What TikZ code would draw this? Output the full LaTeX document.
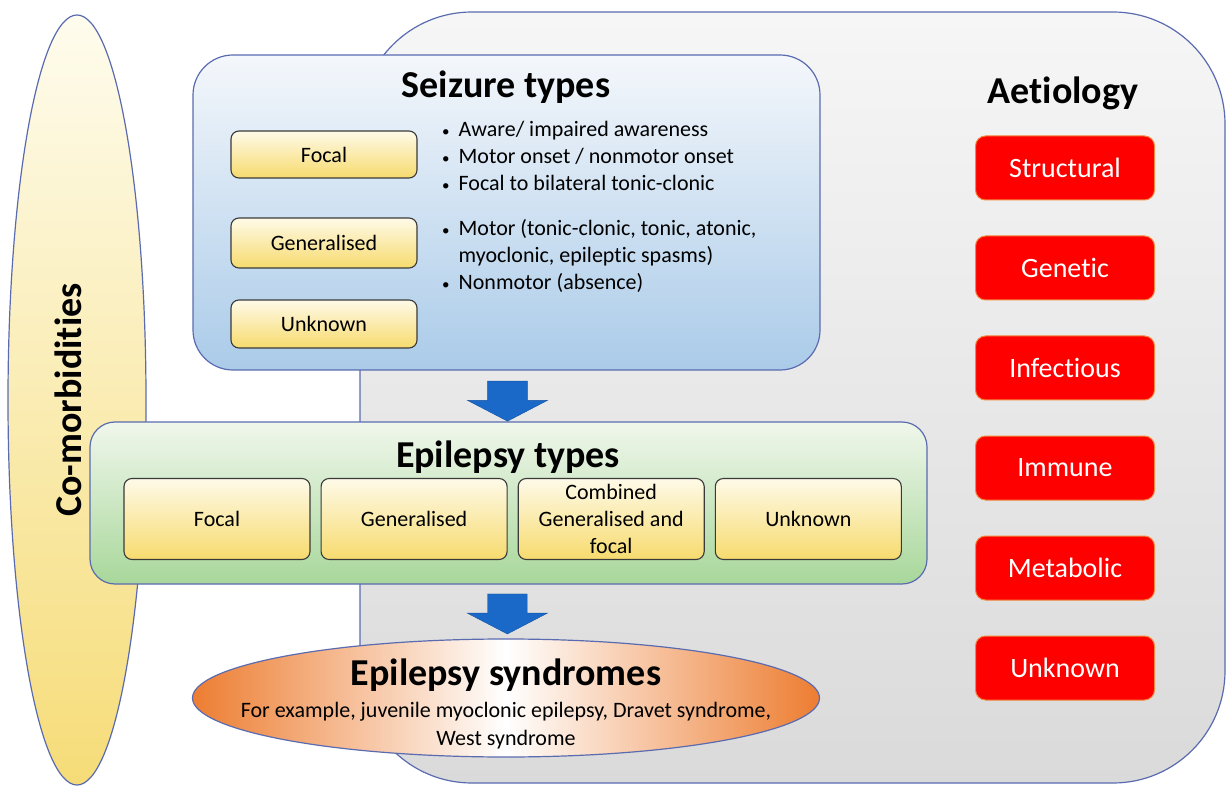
\documentclass[tikz,border=0pt]{standalone}
\usepackage{fontspec}
\setmainfont{Carlito}[Ligatures=NoCommon]
\usepackage{tikz}
\usetikzlibrary{positioning, calc, shapes.geometric, shapes.arrows}
\definecolor{panelblue}{HTML}{5A6BB0}
\definecolor{greytop}{HTML}{F6F6F7}
\definecolor{greymid}{HTML}{E4E4E4}
\definecolor{greybot}{HTML}{DADADA}
\definecolor{seizuretop}{HTML}{F4F7FB}
\definecolor{seizurebot}{HTML}{AACBE9}
\definecolor{typestop}{HTML}{F0F7EC}
\definecolor{typesbot}{HTML}{A8D79A}
\definecolor{yellowtop}{HTML}{FEFAE8}
\definecolor{yellowbot}{HTML}{F7DB6E}
\definecolor{comorbtop}{HTML}{FEFCEE}
\definecolor{comorbbot}{HTML}{F6DC78}
\definecolor{syndorange}{HTML}{ED7D31}
\definecolor{causered}{HTML}{FF0000}
\definecolor{causeedge}{HTML}{F08A3C}
\definecolor{arrowblue}{HTML}{1A68C8}
\definecolor{boxedge}{HTML}{3A3A3A}
\newcommand{\smallbullet}{{\fontsize{15}{15}\selectfont\textbullet}}
\tikzset{
    panel/.style={
        rectangle, draw=panelblue, line width=1.2pt, inner sep=0pt
    },
    catbox/.style={
        rectangle, rounded corners=8pt, draw=boxedge, line width=1.1pt,
        top color=yellowtop, bottom color=yellowbot,
        minimum width=186pt, font=\fontsize{22}{27}\selectfont,
        align=center, inner sep=0pt
    },
    causebox/.style={
        rectangle, rounded corners=10pt, draw=causeedge, line width=1pt,
        fill=causered, text=white, minimum width=179pt, minimum height=64pt,
        font=\fontsize{28}{34}\selectfont, inner sep=0pt
    },
    headlab/.style={
        font=\fontsize{38}{44}\selectfont\bfseries, inner sep=0pt
    },
    bulletlist/.style={
        font=\fontsize{22}{27}\selectfont, anchor=west, inner sep=0pt
    },
    flowarrow/.style={
        single arrow, rotate=-90, fill=arrowblue, draw=arrowblue!80!black,
        line width=0.4pt, minimum height=40pt, minimum width=80pt,
        single arrow head extend=20pt, single arrow tip angle=125,
        inner xsep=0pt, inner ysep=19.5pt
    },
}
\begin{document}
\begin{tikzpicture}[x=1pt, y=-1pt]
    \useasboundingbox (0,0) rectangle (1227,786);

    % ── Aetiology panel ──
    \node[panel, rounded corners=112pt, minimum width=865pt, minimum height=771pt,
          top color=greytop, middle color=greymid, bottom color=greybot] (aetio) at (792.5,397.5) {};
    \node[headlab] (aetiotitle) at (1063,93) {Aetiology};
    \node[causebox] (structural) at (1065,168) {Structural};
    \node[causebox, below=35pt of structural] (genetic) {Genetic};
    \node[causebox, below=35pt of genetic] (infectious) {Infectious};
    \node[causebox, below=35pt of infectious] (immune) {Immune};
    \node[causebox, below=35pt of immune] (metabolic) {Metabolic};
    \node[causebox, below=35pt of metabolic] (causeunk) {Unknown};

    % ── Co-morbidities ──
    \node[ellipse, draw=panelblue, line width=1.2pt, top color=comorbtop, bottom color=comorbbot,
          minimum width=138pt, minimum height=770pt, inner sep=0pt] (comorb) at (77,400) {};
    \node[headlab, rotate=90] (comorbtitle) at (68,400) {Co-morbidities};

    % ── Seizure types ──
    \node[panel, rounded corners=40pt, minimum width=627pt, minimum height=315pt,
          top color=seizuretop, bottom color=seizurebot] (seizure) at (506.5,212.5) {};
    \node[headlab] (seizuretitle) at (506,87) {Seizure types};
    \node[catbox, minimum height=47pt] (szfocal) at (324,154.5) {Focal};
    \node[catbox, minimum height=50pt] (szgen) at (324,243) {Generalised};
    \node[catbox, minimum height=48pt] (szunk) at (324,324) {Unknown};
    \node[bulletlist] (focallist) at (442,158) {%
        \begin{tabular}{@{}l@{\hspace{9pt}}l@{}}
        \smallbullet & Aware/ impaired awareness\\
        \smallbullet & Motor onset / nonmotor onset\\
        \smallbullet & Focal to bilateral tonic-clonic
        \end{tabular}};
    \node[bulletlist] (genlist) at (442,257) {%
        \begin{tabular}{@{}l@{\hspace{9pt}}l@{}}
        \smallbullet & Motor (tonic-clonic, tonic, atonic,\\
                     & myoclonic, epileptic spasms)\\
        \smallbullet & Nonmotor (absence)
        \end{tabular}};

    % ── Epilepsy types ──
    \node[panel, rounded corners=25pt, minimum width=837pt, minimum height=162pt,
          top color=typestop, bottom color=typesbot] (eptypes) at (508.5,503) {};
    \node[headlab] (eptypestitle) at (508,457) {Epilepsy types};
    \node[catbox, minimum height=81pt] (epfocal) at (217,519) {Focal};
    \node[catbox, minimum height=81pt, right=10pt of epfocal] (epgen) {Generalised};
    \node[catbox, minimum height=81pt, right=10pt of epgen] (epcomb) {Combined\\Generalised and\\focal};
    \node[catbox, minimum height=81pt, right=10pt of epcomb] (epunk) {Unknown};

    % ── Epilepsy syndromes ──
    \node[ellipse, draw=panelblue, line width=1.2pt, left color=syndorange, right color=syndorange,
          middle color=white, minimum width=627pt, minimum height=118pt, inner sep=0pt] (syndromes) at (506,698) {};
    \node[headlab] (syndtitle) at (506,675) {Epilepsy syndromes};
    \node[font=\fontsize{22}{28}\selectfont, align=center, inner sep=0pt] (syndex) at (506,726)
        {For example, juvenile myoclonic epilepsy, Dravet syndrome,\\West syndrome};

    % ── Arrows ──
    \node[flowarrow] (arrowA) at ($(seizure.south)!0.5!(eptypes.north)$) {};
    \node[flowarrow] (arrowB) at ($(eptypes.south)!0.45!(syndromes.north)$) {};

\end{tikzpicture}
\end{document}
